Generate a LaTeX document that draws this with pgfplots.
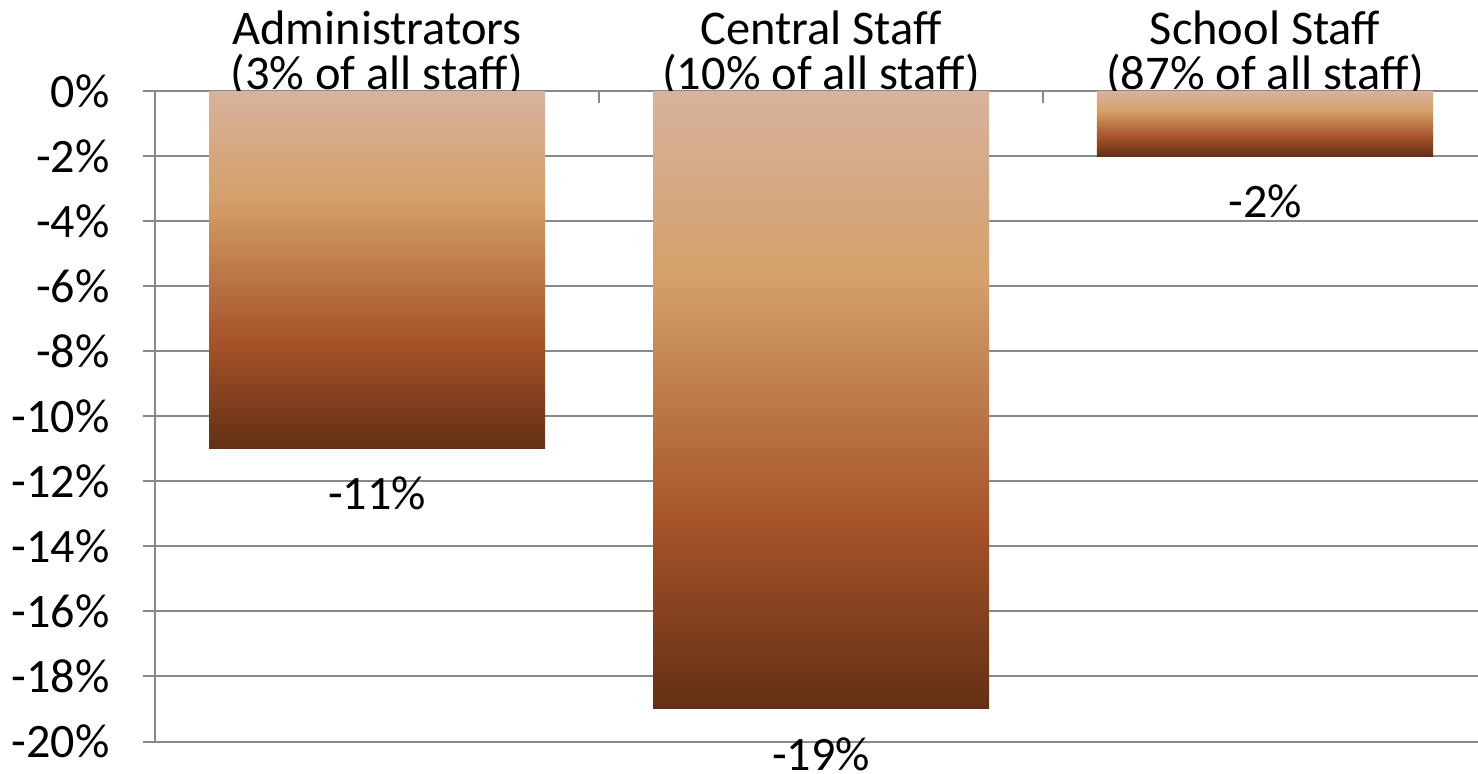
\documentclass[border=0pt]{standalone}
\usepackage{pgfplots}
\pgfplotsset{compat=1.18}
\usepackage{fontspec}
\setmainfont{Carlito}
\usetikzlibrary{calc}
\definecolor{gridgray}{HTML}{898989}
\definecolor{bTop}{HTML}{D8B29D}
\definecolor{bMid}{HTML}{D4A06B}
\definecolor{bRust}{HTML}{A6532A}
\definecolor{bBot}{HTML}{632F14}
\pgfdeclareverticalshading{brownbar}{100bp}{color(0bp)=(bBot); color(25bp)=(bBot); color(40bp)=(bRust); color(60bp)=(bMid); color(75bp)=(bTop); color(100bp)=(bTop)}
\begin{document}
\begin{tikzpicture}
\begin{axis}[
  scale only axis, width=665.5pt, height=325pt,
  xmin=-0.5, xmax=2.5, ymin=-20, ymax=0,
  clip=false,
  axis x line*=top, axis y line*=left,
  axis line style={gridgray, line width=1pt},
  tick style={gridgray, line width=1pt},
  major tick length=6pt,
  xtick align=inside, ytick align=outside,
  xtick={-0.5,0.5,1.5,2.5}, xticklabels={},
  extra x ticks={0,1,2},
  extra x tick labels={{Administrators\\(3\% of all staff)},{Central Staff\\(10\% of all staff)},{School Staff\\(87\% of all staff)}},
  extra x tick style={major tick length=0pt},
  xticklabel style={align=center, inner sep=0pt, anchor=south, font=\fontsize{24.2}{22.5}\selectfont},
  xticklabel shift=-3pt,
  ytick={-20,-18,...,0},
  ymajorgrids, grid style={gridgray, line width=1pt},
  yticklabel={\pgfmathprintnumber[assume math mode=true]{\tick}\%},
  yticklabel style={inner sep=0pt, anchor=east, font=\fontsize{24}{28}\selectfont},
  yticklabel shift=16.5pt,
  nodes near coords={\pgfmathprintnumber[assume math mode=true]{\pgfplotspointmeta}\%},
  nodes near coords style={anchor=north, inner sep=0pt, yshift=-14pt, font=\fontsize{24}{28}\selectfont, text=black},
]
\addplot[ybar, bar width=0.757, bar shift=0pt, draw=none, shading=brownbar] coordinates {(0,-11)};
\addplot[ybar, bar width=0.757, bar shift=0pt, draw=none, shading=brownbar] coordinates {(1,-19)};
\addplot[ybar, bar width=0.757, bar shift=0pt, draw=none, shading=brownbar] coordinates {(2,-2)};
\coordinate (axsw) at (rel axis cs:0,0);
\coordinate (axne) at (rel axis cs:1,1);
\end{axis}
\pgfresetboundingbox
\path ($(axsw)+(-77.5pt,-16pt)$) rectangle ($(axne)+(-4.5pt,45.5pt)$);
\end{tikzpicture}
\end{document}
